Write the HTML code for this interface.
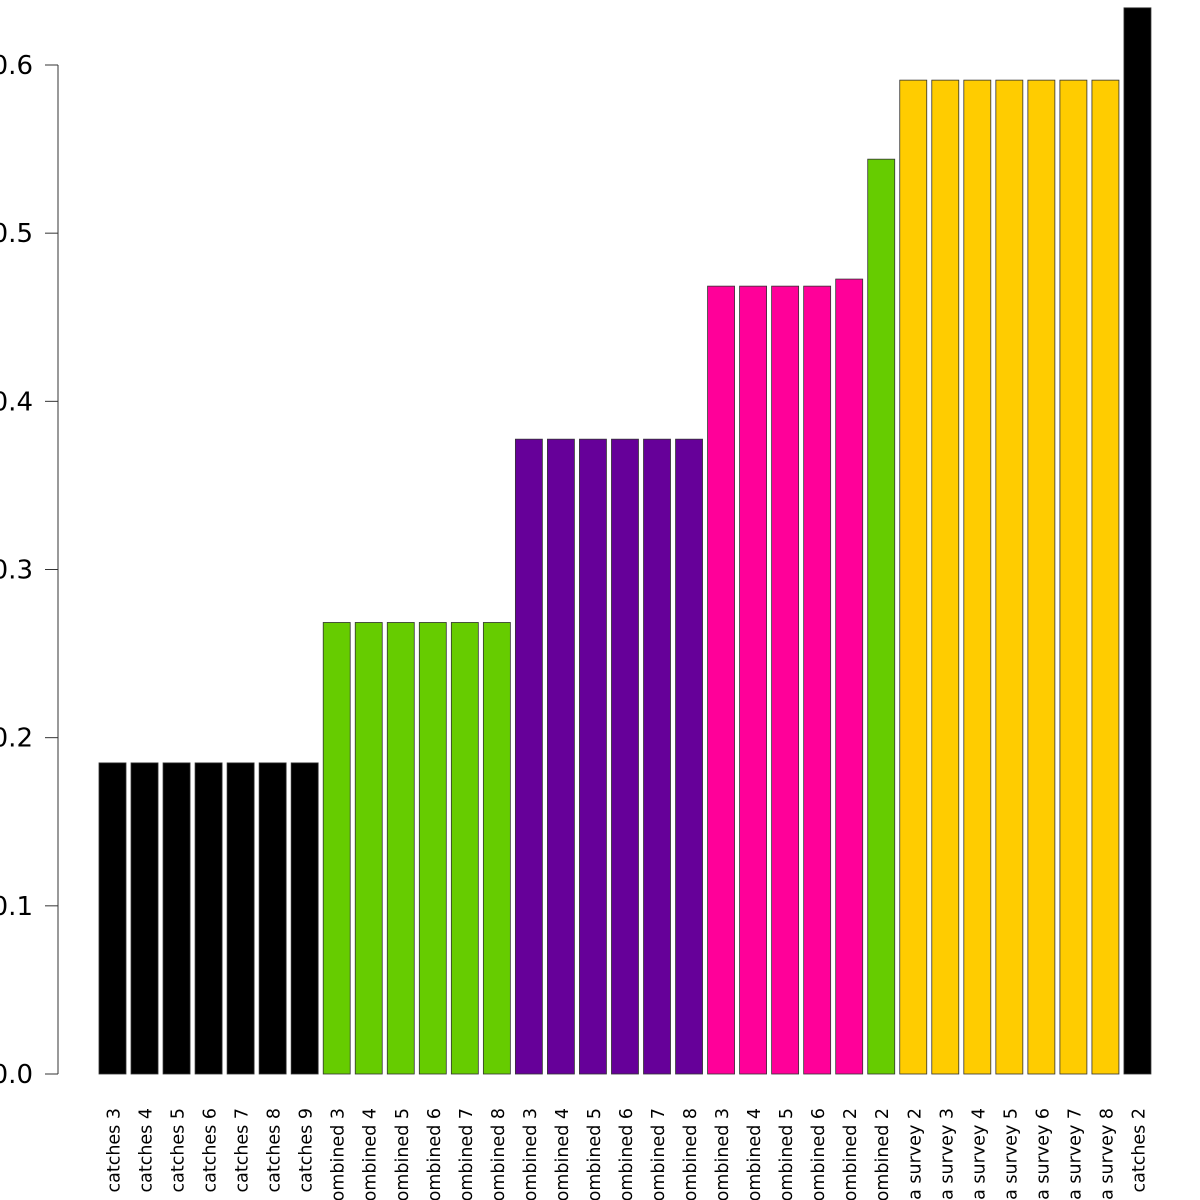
<!DOCTYPE html>
<html><head><meta charset="utf-8"><style>html,body{margin:0;padding:0;background:#fff;overflow:hidden}svg{display:block}</style></head>
<body>
<svg id="chart" width="1200" height="1200" xmlns="http://www.w3.org/2000/svg" font-family="DejaVu Sans, Liberation Sans, sans-serif"></svg>
<script>
const categories = ["catches 3","catches 4","catches 5","catches 6","catches 7","catches 8","catches 9",
"combined 3","combined 4","combined 5","combined 6","combined 7","combined 8",
"combined 3","combined 4","combined 5","combined 6","combined 7","combined 8",
"combined 3","combined 4","combined 5","combined 6","combined 2","combined 2",
"a survey 2","a survey 3","a survey 4","a survey 5","a survey 6","a survey 7","a survey 8","catches 2"];
const values = [0.185,0.185,0.185,0.185,0.185,0.185,0.185,
0.2685,0.2685,0.2685,0.2685,0.2685,0.2685,
0.3775,0.3775,0.3775,0.3775,0.3775,0.3775,
0.4685,0.4685,0.4685,0.4685,0.4727,0.544,
0.591,0.591,0.591,0.591,0.591,0.591,0.591,0.634];
const colors = ["#000000","#000000","#000000","#000000","#000000","#000000","#000000",
"#66CC00","#66CC00","#66CC00","#66CC00","#66CC00","#66CC00",
"#660099","#660099","#660099","#660099","#660099","#660099",
"#FF0099","#FF0099","#FF0099","#FF0099","#FF0099","#66CC00",
"#FFCC00","#FFCC00","#FFCC00","#FFCC00","#FFCC00","#FFCC00","#FFCC00","#000000"];
const ticks = [0,0.1,0.2,0.3,0.4,0.5,0.6];
const tickLabels = ["0.0","0.1","0.2","0.3","0.4","0.5","0.6"];

const NS="http://www.w3.org/2000/svg";
const svg=document.getElementById('chart');
const y0=1074, pxPerUnit=(1074-65)/0.6;
const yScale=v=>y0-v*pxPerUnit;
const xScale=i=>99+i*32.03;
const bw=27;
function mk(t,a){const e=document.createElementNS(NS,t);for(const k in a)e.setAttribute(k,a[k]);svg.appendChild(e);return e;}

const ax=mk('line',{x1:58,x2:58,y1:yScale(0),y2:yScale(0.6),stroke:'#333','stroke-width':1});


ticks.forEach((t,i)=>{
  const y=yScale(t);
  const l=mk('line',{x1:45,x2:58,y1:y,y2:y,stroke:'#333','stroke-width':1});
  
  
  const tx=mk('text',{x:33,y:y+9,'text-anchor':'end','font-size':26,fill:'#000'});
  tx.textContent=tickLabels[i];
  
  
});
values.forEach((v,i)=>{
  const x=xScale(i), y=yScale(v);
  const r=mk('rect',{x:x,y:y,width:bw,height:y0-y,fill:colors[i],stroke:'#333','stroke-width':0.8});
  
  
  const cx=x+bw/2+7;
  const t=mk('text',{x:0,y:0,'text-anchor':'end','font-size':17.5,fill:'#000',transform:`translate(${cx},1108) rotate(-90)`});
  t.textContent=categories[i];
  
  
});
</script>
</body></html>
